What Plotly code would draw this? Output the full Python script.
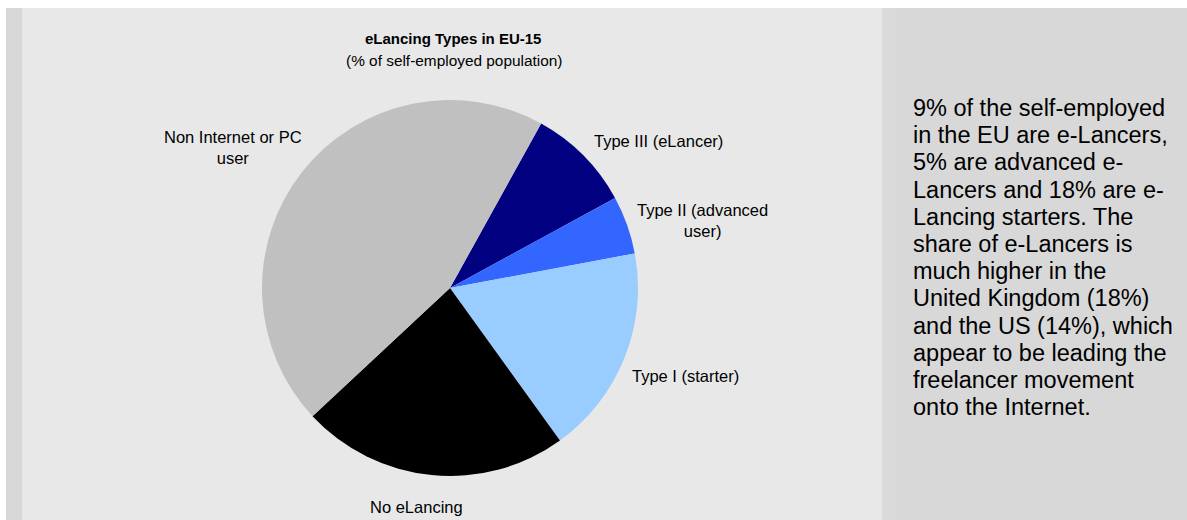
import plotly.graph_objects as go

W, H = 1187, 520

# Pie data: share of the self-employed population (EU-15), in percent
categories = ["Type III (eLancer)", "Type II (advanced user)", "Type I (starter)",
              "No eLancing", "Non Internet or PC user"]
shares = [9, 5, 18, 23, 45]
colors = ["#000080", "#3366FF", "#99CCFF", "#000000", "#C0C0C0"]

# Slice labels as drawn beside the pie (with manual line breaks)
slice_labels = ["Type III (eLancer)", "Type II (advanced<br>user)", "Type I (starter)",
                "No eLancing", "Non Internet or PC<br>user"]
label_pos = [(658, 141), (702, 220), (685, 376), (416, 507), (233, 147)]

title = "eLancing Types in EU-15"
subtitle = "(% of self-employed population)"

side_text = [
    "9% of the self-employed",
    "in the EU are e-Lancers,",
    "5% are advanced e-",
    "Lancers and 18% are e-",
    "Lancing starters. The",
    "share of e-Lancers is",
    "much higher in the",
    "United Kingdom (18%)",
    "and the US (14%), which",
    "appear to be leading the",
    "freelancer movement",
    "onto the Internet.",
]

FONT = "Liberation Sans, Arial, sans-serif"


def px(x):
    return x / W


def py(y):
    return 1 - y / H


cx, cy, r = 450, 288, 188

fig = go.Figure()
fig.add_trace(go.Pie(
    labels=categories,
    values=shares,
    sort=False,
    direction="clockwise",
    rotation=29,
    marker=dict(colors=colors, line=dict(width=0)),
    textinfo="none",
    hoverinfo="label+percent",
    showlegend=False,
    domain=dict(x=[px(cx - r), px(cx + r)], y=[py(cy + r), py(cy - r)]),
))

shapes = [
    # left narrow strip
    dict(type="rect", xref="paper", yref="paper", x0=px(6), x1=px(22), y0=0, y1=py(8),
         fillcolor="#D7D7D7", line=dict(width=0), layer="below"),
    # chart panel
    dict(type="rect", xref="paper", yref="paper", x0=px(22), x1=px(882), y0=0, y1=py(8),
         fillcolor="#E8E8E8", line=dict(width=0), layer="below"),
    # commentary panel
    dict(type="rect", xref="paper", yref="paper", x0=px(882), x1=1, y0=0, y1=py(8),
         fillcolor="#D8D8D8", line=dict(width=0), layer="below"),
    dict(type="rect", xref="paper", yref="paper", x0=px(882), x1=px(896), y0=0, y1=py(9),
         fillcolor="#DADADA", line=dict(width=0), layer="below"),
]

annotations = [
    dict(text="<b>" + title + "</b>", x=px(453), y=py(39), xref="paper", yref="paper",
         showarrow=False, xanchor="center", yanchor="middle",
         font=dict(family=FONT, size=15, color="#000000")),
    dict(text=subtitle, x=px(454), y=py(60), xref="paper", yref="paper",
         showarrow=False, xanchor="center", yanchor="middle",
         font=dict(family=FONT, size=15.4, color="#000000")),
]

for text, (lx, ly) in zip(slice_labels, label_pos):
    annotations.append(dict(
        text=text, x=px(lx), y=py(ly), xref="paper", yref="paper",
        showarrow=False, xanchor="center", yanchor="middle", align="center",
        font=dict(family=FONT, size=16.5, color="#000000"),
    ))

line_gap = 27.2
for i, line in enumerate(side_text):
    annotations.append(dict(
        text=line, x=px(911), y=py(108 + i * line_gap), xref="paper", yref="paper",
        showarrow=False, xanchor="left", yanchor="middle", align="left",
        font=dict(family=FONT, size=23.5, color="#000000"),
    ))

fig.update_layout(
    width=W, height=H,
    margin=dict(l=0, r=0, t=0, b=0),
    paper_bgcolor="#FFFFFF",
    plot_bgcolor="#FFFFFF",
    shapes=shapes,
    annotations=annotations,
)

fig.write_html("out.html", config={"displayModeBar": False})
